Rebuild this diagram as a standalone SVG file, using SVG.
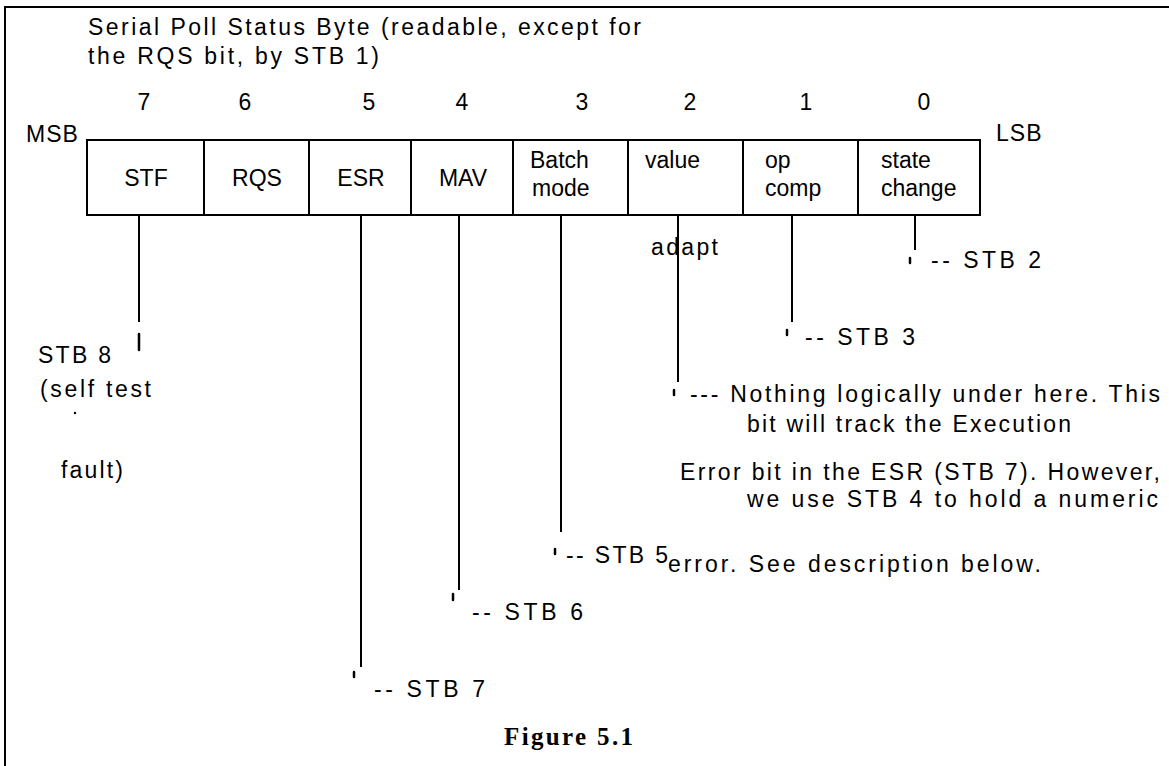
<svg xmlns="http://www.w3.org/2000/svg" width="1169" height="766" viewBox="0 0 1169 766">
<style>
text{font-family:"Liberation Sans",Arial,sans-serif;font-size:23px;fill:#000}
.c{text-anchor:middle}
.cell{fill:#fff;stroke:#000;stroke-width:2}
.ln{stroke:#000;stroke-width:2;fill:none}
.tk{stroke:#000;stroke-width:2.5;stroke-linecap:round}
.fig{font-family:"Liberation Serif","Times New Roman",serif;font-weight:bold;font-size:25px}
</style>
<rect width="1169" height="766" fill="#fff"/>
<g id="frame"><path class="ln" d="M5 766 V7 H1169"/></g>
<g id="title">
<text x="88" y="35" textLength="553" lengthAdjust="spacing">Serial Poll Status Byte (readable, except for</text>
<text x="88" y="64" textLength="291" lengthAdjust="spacing">the RQS bit, by STB 1)</text>
</g>
<g id="bitnums" class="c">
<text class="c" x="144" y="110">7</text>
<text class="c" x="245" y="110">6</text>
<text class="c" x="369" y="110">5</text>
<text class="c" x="462" y="110">4</text>
<text class="c" x="582" y="110">3</text>
<text class="c" x="690" y="110">2</text>
<text class="c" x="806" y="110">1</text>
<text class="c" x="924" y="110">0</text>
</g>
<g id="msb"><text x="26" y="142" letter-spacing="1">MSB</text></g>
<g id="lsb"><text x="996" y="141" letter-spacing="1">LSB</text></g>
<g id="bit7"><rect class="cell" x="87" y="140" width="117" height="75"/><text class="c" x="146" y="186">STF</text></g>
<g id="bit6"><rect class="cell" x="204" y="140" width="105" height="75"/><text class="c" x="257" y="186">RQS</text></g>
<g id="bit5"><rect class="cell" x="309" y="140" width="102" height="75"/><text class="c" x="361" y="186">ESR</text></g>
<g id="bit4"><rect class="cell" x="411" y="140" width="102" height="75"/><text class="c" x="463" y="186">MAV</text></g>
<g id="bit3"><rect class="cell" x="513" y="140" width="115" height="75"/><text x="530" y="168">Batch</text><text x="532" y="196">mode</text></g>
<g id="bit2"><rect class="cell" x="628" y="140" width="115" height="75"/><text x="645" y="168">value</text></g>
<g id="bit1"><rect class="cell" x="743" y="140" width="115" height="75"/><text x="765" y="168">op</text><text x="765" y="196">comp</text></g>
<g id="bit0"><rect class="cell" x="858" y="140" width="122" height="75"/><text x="881" y="168">state</text><text x="881" y="196">change</text></g>
<g id="labels">
<text x="651" y="255" textLength="67" lengthAdjust="spacing">adapt</text>
<text x="931" y="268" textLength="110" lengthAdjust="spacing">-- STB 2</text>
<text x="805" y="345" textLength="110" lengthAdjust="spacing">-- STB 3</text>
<text x="38" y="363" textLength="73" lengthAdjust="spacing">STB 8</text>
<text x="40" y="397" textLength="111" lengthAdjust="spacing">(self test</text>
<text x="61" y="478" textLength="62" lengthAdjust="spacing">fault)</text>
<text x="690" y="402" textLength="470" lengthAdjust="spacing">--- Nothing logically under here. This</text>
<text x="747" y="432" textLength="324" lengthAdjust="spacing">bit will track the Execution</text>
<text x="680" y="480" textLength="480" lengthAdjust="spacing">Error bit in the ESR (STB 7). However,</text>
<text x="747" y="507" textLength="411" lengthAdjust="spacing">we use STB 4 to hold a numeric</text>
<text x="566" y="563" textLength="102" lengthAdjust="spacing">-- STB 5</text>
<text x="668" y="572" textLength="373" lengthAdjust="spacing">error. See description below.</text>
<text x="472" y="620" textLength="111" lengthAdjust="spacing">-- STB 6</text>
<text x="374" y="697" textLength="111" lengthAdjust="spacing">-- STB 7</text>
<text class="fig" x="504" y="745" textLength="129" lengthAdjust="spacing">Figure 5.1</text>
</g>
<g id="connectors">
<line class="ln" x1="139" y1="215" x2="139" y2="322"/>
<line class="tk" x1="139" y1="334" x2="139" y2="350" stroke-width="3.5"/>
<circle cx="75" cy="413" r="1.2" fill="#000"/>
<line class="ln" x1="361" y1="215" x2="361" y2="667"/>
<line class="tk" x1="354" y1="672" x2="354" y2="677"/>
<line class="ln" x1="459" y1="215" x2="459" y2="590"/>
<line class="tk" x1="453" y1="594" x2="453" y2="600"/>
<line class="ln" x1="561" y1="215" x2="561" y2="532"/>
<line class="tk" x1="555" y1="549" x2="555" y2="554"/>
<line class="ln" x1="678" y1="215" x2="678" y2="382"/>
<line class="tk" x1="674" y1="390" x2="674" y2="395"/>
<line class="ln" x1="792" y1="215" x2="792" y2="322"/>
<line class="tk" x1="787" y1="330" x2="787" y2="335"/>
<line class="ln" x1="915" y1="215" x2="915" y2="250"/>
<line class="tk" x1="910" y1="258" x2="910" y2="263"/>
</g>
</svg>
